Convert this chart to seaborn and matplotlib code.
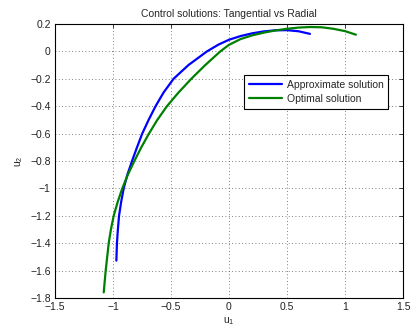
import matplotlib
matplotlib.use("Agg")
import matplotlib.pyplot as plt
import seaborn as sns
import pandas as pd

# Approximate (tangential/radial) control trajectory
approx_u1 = [-0.971, -0.966, -0.958, -0.948, -0.930, -0.908, -0.876, -0.836,
             -0.793, -0.748, -0.693, -0.633, -0.564, -0.478, -0.350, -0.190,
             -0.090, 0.000, 0.100, 0.200, 0.300, 0.400, 0.500, 0.600, 0.698]
approx_u2 = [-1.527, -1.400, -1.300, -1.200, -1.100, -1.000, -0.900, -0.800,
             -0.700, -0.600, -0.500, -0.400, -0.300, -0.200, -0.100, 0.000,
             0.050, 0.085, 0.112, 0.132, 0.146, 0.154, 0.155, 0.147, 0.128]

# Optimal control trajectory
optimal_u1 = [-1.080, -1.063, -1.037, -1.018, -0.994, -0.960, -0.920, -0.872,
              -0.816, -0.756, -0.690, -0.618, -0.535, -0.435, -0.325, -0.205,
              -0.075, 0.000, 0.100, 0.200, 0.300, 0.400, 0.500, 0.600, 0.700,
              0.800, 0.900, 1.000, 1.094]
optimal_u2 = [-1.759, -1.600, -1.400, -1.300, -1.200, -1.100, -1.000, -0.900,
              -0.800, -0.700, -0.600, -0.500, -0.400, -0.300, -0.200, -0.100,
              0.000, 0.048, 0.090, 0.117, 0.137, 0.153, 0.165, 0.174, 0.178,
              0.176, 0.165, 0.148, 0.122]

series_names = ["Approximate solution", "Optimal solution"]
series_colors = ["#0000ff", "#008000"]

x_ticks = [-1.5, -1.0, -0.5, 0.0, 0.5, 1.0, 1.5]
x_tick_labels = ["\u22121.5", "\u22121", "\u22120.5", "0", "0.5", "1", "1.5"]
y_ticks = [-1.8, -1.6, -1.4, -1.2, -1.0, -0.8, -0.6, -0.4, -0.2, 0.0, 0.2]
y_tick_labels = ["\u22121.8", "\u22121.6", "\u22121.4", "\u22121.2", "\u22121",
                 "\u22120.8", "\u22120.6", "\u22120.4", "\u22120.2", "0", "0.2"]

df = pd.concat([
    pd.DataFrame({"u1": approx_u1, "u2": approx_u2, "series": series_names[0]}),
    pd.DataFrame({"u1": optimal_u1, "u2": optimal_u2, "series": series_names[1]}),
], ignore_index=True)

sns.set_style("white")
plt.rcParams["font.family"] = ["Liberation Sans", "DejaVu Sans"]
plt.rcParams["mathtext.fontset"] = "custom"
plt.rcParams["mathtext.rm"] = "Liberation Sans"
plt.rcParams["mathtext.it"] = "Liberation Sans"

fig = plt.figure(figsize=(4.16, 3.34), dpi=100)
ax = fig.add_axes([55 / 416, 1 - 298 / 334, 348 / 416, 274 / 334])

sns.lineplot(data=df, x="u1", y="u2", hue="series", hue_order=series_names,
             palette=series_colors, sort=False, estimator=None,
             linewidth=1.6, ax=ax)
for line in ax.get_lines():
    line.set_solid_joinstyle("round")

ax.set_xlim(-1.5, 1.5)
ax.set_ylim(-1.8, 0.2)
ax.set_xticks(x_ticks)
ax.set_xticklabels(x_tick_labels)
ax.set_yticks(y_ticks)
ax.set_yticklabels(y_tick_labels)

ax.grid(True, linestyle=(0, (1, 3)), color="#555555", linewidth=0.6)
ax.tick_params(direction="in", top=True, right=True, length=3, width=0.6,
               labelsize=7.5, colors="#222222", pad=3)
for sp in ax.spines.values():
    sp.set_visible(True)
    sp.set_color("black")
    sp.set_linewidth(0.8)

ax.set_xlabel("u$_1$", fontsize=7.5, labelpad=2)
ax.set_ylabel("u$_2$", fontsize=7.5, labelpad=4)
ax.set_title("Control solutions: Tangential vs Radial", fontsize=7.5, pad=5)

leg = ax.legend(loc="upper left", bbox_to_anchor=(0.543, 0.814),
                borderaxespad=0, fontsize=7.5, frameon=True, fancybox=False,
                edgecolor="black", handlelength=3.2, handletextpad=0.45,
                borderpad=0.45, labelspacing=0.4)
leg.get_frame().set_linewidth(0.8)
leg.get_frame().set_alpha(1)

fig.savefig("out.png", dpi=100, facecolor="white")
